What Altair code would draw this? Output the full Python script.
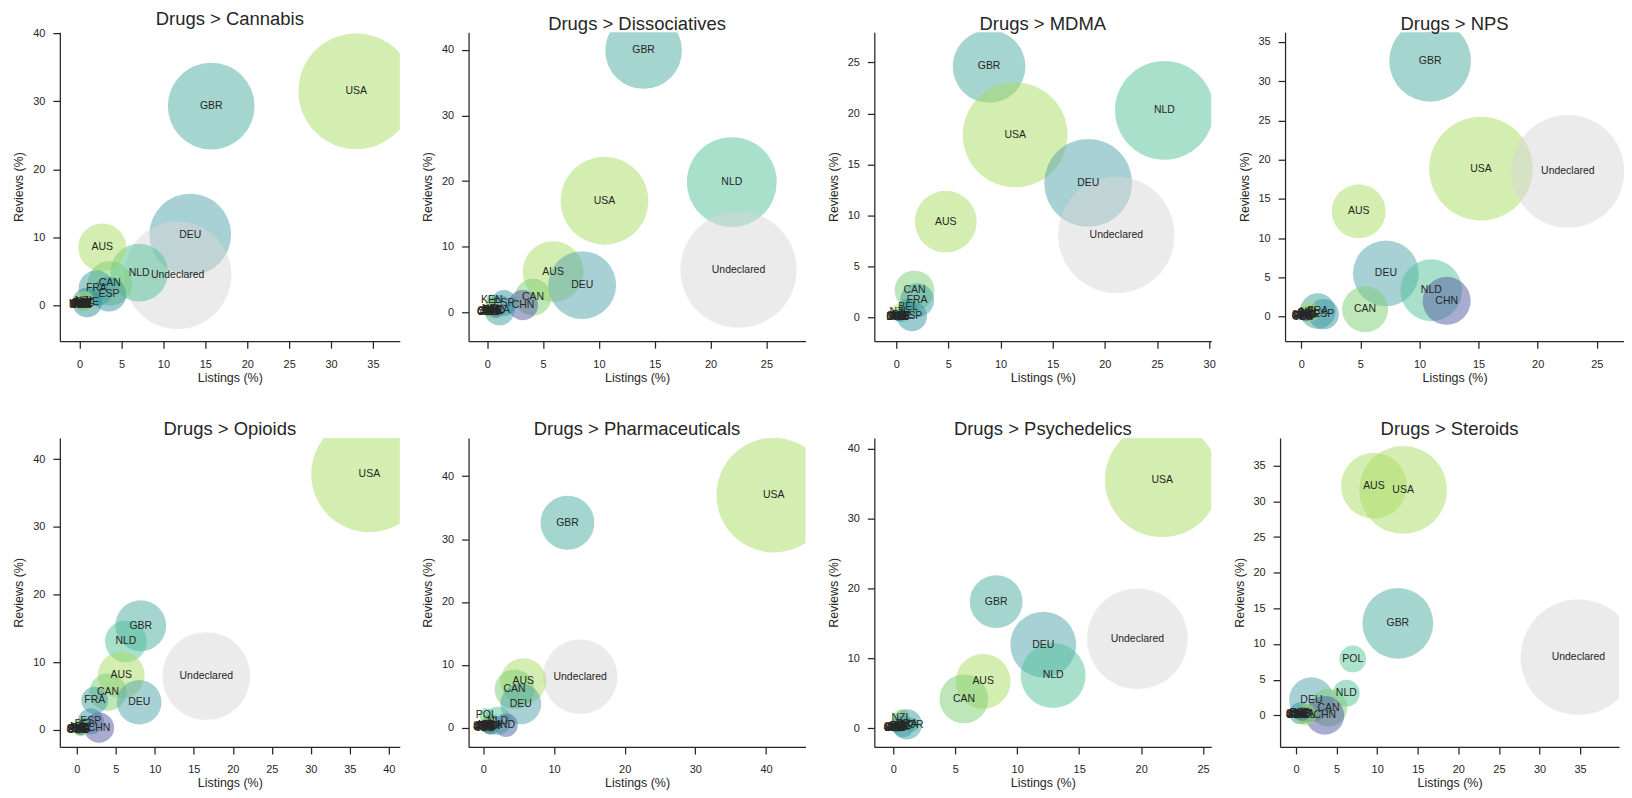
import altair as alt
import pandas as pd

FONT = "Liberation Sans"
INK = "#262626"

# ---------------- data ----------------
# each panel: countries, listings (%), reviews (%), bubble weight (share, area-proportional)
cannabis_c = ["USA", "GBR", "DEU", "Undeclared", "NLD", "AUS", "CAN", "FRA", "ESP", "SWE",
              "BEL", "ITA", "CHE", "AUT", "DNK", "NOR", "IRL", "POL", "NZL", "CZE", "FIN", "PRT"]
cannabis_x = [33.0, 15.7, 13.2, 11.7, 7.1, 2.7, 3.6, 2.0, 3.5, 0.9,
              0.5, 0.3, 0.2, 0.4, 0.1, 0.1, 0.2, 0.3, 0.6, 0.1, 0.0, 0.4]
cannabis_y = [31.5, 29.3, 10.4, 4.4, 4.8, 8.5, 3.2, 2.5, 1.6, 0.4,
              0.3, 0.1, 0.2, 0.1, 0.05, 0.1, 0.05, 0.2, 0.6, 0.0, 0.1, 0.3]
cannabis_s = [33.6, 18.9, 16.8, 29.0, 8.4, 5.8, 5.0, 3.2, 3.0, 2.2,
              0.6, 0.3, 0.3, 0.3, 0.1, 0.1, 0.2, 0.4, 1.0, 0.1, 0.1, 0.2]

dissoc_c = ["GBR", "NLD", "Undeclared", "USA", "AUS", "DEU", "CAN", "CHN", "KEN", "FRA",
            "ESP", "BEL", "ITA", "SWE", "POL", "CHE", "AUT", "NZL", "IND", "CZE", "FIN"]
dissoc_x = [14.0, 21.9, 22.5, 10.5, 5.9, 8.5, 4.1, 3.2, 0.4, 1.1,
            1.5, 0.5, 0.3, 0.2, 0.6, 0.1, 0.2, 0.4, 0.8, 0.0, 0.3]
dissoc_y = [39.9, 19.85, 6.5, 17.0, 6.2, 4.15, 2.3, 1.1, 1.9, 0.3,
            1.4, 0.3, 0.1, 0.2, 0.4, 0.05, 0.1, 0.5, 0.2, 0.0, 0.15]
dissoc_s = [14.8, 20.3, 34.0, 19.4, 9.3, 11.6, 3.4, 2.3, 0.3, 2.3,
            1.7, 0.4, 0.2, 0.3, 0.6, 0.1, 0.2, 0.8, 0.5, 0.1, 0.1]

mdma_c = ["GBR", "USA", "NLD", "DEU", "Undeclared", "AUS", "CAN", "FRA", "BEL", "NZL",
          "ESP", "ITA", "SWE", "CHE", "AUT", "POL", "DNK", "IRL", "CZE", "FIN"]
mdma_x = [8.9, 11.4, 25.7, 18.4, 21.1, 4.75, 1.75, 2.0, 1.15, 0.3,
          1.5, 0.3, 0.2, 0.1, 0.4, 0.6, 0.1, 0.2, 0.3, 0.0]
mdma_y = [24.6, 17.9, 20.3, 13.2, 8.1, 9.4, 2.67, 1.7, 1.0, 0.6,
          0.15, 0.1, 0.2, 0.05, 0.1, 0.3, 0.05, 0.1, 0.2, 0.1]
mdma_s = [13.3, 27.6, 24.5, 19.4, 34.0, 9.6, 4.0, 2.9, 0.8, 0.6,
          2.3, 0.2, 0.3, 0.1, 0.3, 0.6, 0.1, 0.2, 0.3, 0.1]

nps_c = ["GBR", "USA", "Undeclared", "AUS", "DEU", "NLD", "CHN", "CAN", "FRA", "ESP",
         "BEL", "ITA", "SWE", "POL", "CHE", "NZL", "AUT", "IND", "CZE", "FIN"]
nps_x = [10.9, 15.2, 22.55, 4.86, 7.16, 11.0, 12.3, 5.4, 1.4, 1.9,
         0.5, 0.3, 0.2, 0.6, 0.1, 0.7, 0.2, 0.4, 0.1, 0.0]
nps_y = [32.6, 18.85, 18.5, 13.4, 5.5, 3.35, 2.0, 0.93, 0.7, 0.3,
         0.3, 0.1, 0.2, 0.4, 0.05, 0.6, 0.1, 0.2, 0.0, 0.1]
nps_s = [16.8, 27.0, 32.0, 7.3, 10.9, 9.6, 5.8, 5.3, 3.2, 2.3,
         0.4, 0.2, 0.3, 0.6, 0.1, 1.0, 0.2, 0.4, 0.1, 0.1]

opioids_c = ["USA", "GBR", "NLD", "AUS", "Undeclared", "CAN", "FRA", "DEU", "ESP", "CHN",
             "BEL", "ITA", "SWE", "POL", "CHE", "NZL", "AUT", "IND", "CZE", "FIN"]
opioids_x = [37.5, 8.2, 6.3, 5.7, 16.6, 4.0, 2.3, 8.0, 1.8, 2.85,
             1.0, 0.3, 0.2, 0.6, 0.1, 0.4, 0.2, 0.5, 0.1, 0.0]
opioids_y = [37.8, 15.4, 13.1, 8.1, 7.95, 5.6, 4.4, 4.1, 1.3, 0.35,
             0.9, 0.1, 0.2, 0.3, 0.05, 0.4, 0.1, 0.2, 0.0, 0.1]
opioids_s = [34.0, 6.5, 4.4, 5.5, 19.4, 3.5, 1.8, 5.0, 1.7, 2.3,
             0.4, 0.2, 0.3, 0.6, 0.1, 0.8, 0.2, 0.4, 0.1, 0.1]

pharma_c = ["USA", "GBR", "Undeclared", "AUS", "CAN", "DEU", "POL", "NLD", "IND", "FRA",
            "ESP", "BEL", "ITA", "SWE", "CHE", "NZL", "AUT", "CHN", "CZE", "FIN"]
pharma_x = [41.1, 11.9, 13.7, 5.65, 4.4, 5.3, 0.4, 2.0, 3.2, 1.2,
            0.9, 0.5, 0.3, 0.2, 0.1, 0.6, 0.2, 0.8, 0.1, 0.0]
pharma_y = [37.0, 32.6, 8.1, 7.4, 6.1, 3.8, 2.0, 1.1, 0.4, 0.5,
            0.3, 0.3, 0.1, 0.2, 0.05, 0.5, 0.1, 0.2, 0.0, 0.1]
pharma_s = [33.0, 7.3, 14.0, 5.3, 4.0, 4.2, 0.5, 2.0, 1.4, 1.0,
            0.8, 0.4, 0.2, 0.3, 0.1, 0.8, 0.2, 0.5, 0.1, 0.1]

psych_c = ["USA", "GBR", "DEU", "NLD", "Undeclared", "AUS", "CAN", "NZL", "FRA", "NOR",
           "ESP", "BEL", "ITA", "SWE", "POL", "CHE", "AUT", "DNK", "CZE", "FIN"]
psych_x = [21.7, 8.3, 12.1, 12.9, 19.7, 7.25, 5.7, 0.65, 1.1, 1.5,
           0.8, 0.5, 0.3, 0.2, 0.6, 0.1, 0.2, 0.4, 0.1, 0.0]
psych_y = [35.5, 18.1, 11.96, 7.55, 12.8, 6.7, 4.2, 1.5, 0.57, 0.5,
           0.3, 0.3, 0.1, 0.2, 0.4, 0.05, 0.1, 0.2, 0.0, 0.1]
psych_s = [33.0, 7.0, 10.9, 10.6, 25.5, 7.6, 6.0, 0.8, 2.3, 0.5,
           1.2, 0.4, 0.2, 0.3, 0.6, 0.1, 0.2, 0.3, 0.1, 0.1]

steroids_c = ["AUS", "USA", "GBR", "Undeclared", "POL", "NLD", "DEU", "CAN", "CHN", "ESP",
              "FRA", "BEL", "ITA", "SWE", "NZL", "CHE", "AUT", "IND", "CZE", "FIN"]
steroids_x = [9.6, 13.2, 12.55, 34.8, 7.0, 6.2, 1.9, 4.0, 3.55, 0.5,
              1.0, 0.5, 0.3, 0.2, 1.2, 0.1, 0.2, 0.8, 0.1, 0.0]
steroids_y = [32.2, 31.6, 12.9, 8.15, 7.9, 3.1, 2.2, 1.07, 0.0, 0.3,
              0.2, 0.3, 0.1, 0.2, 0.1, 0.05, 0.1, 0.2, 0.0, 0.1]
steroids_s = [10.9, 19.4, 12.6, 33.6, 1.8, 1.8, 5.0, 3.6, 3.8, 1.2,
              1.0, 0.4, 0.2, 0.3, 1.2, 0.1, 0.2, 0.5, 0.1, 0.1]

titles = ["Drugs > Cannabis", "Drugs > Dissociatives", "Drugs > MDMA", "Drugs > NPS",
          "Drugs > Opioids", "Drugs > Pharmaceuticals", "Drugs > Psychedelics", "Drugs > Steroids"]

# axis ranges and tick values per panel
x_domains = [[-2.36, 38.2], [-1.67, 28.5], [-2.1, 30.2], [-1.37, 27.3],
             [-2.17, 41.4], [-2.1, 45.6], [-1.53, 25.66], [-1.96, 39.8]]
y_domains = [[-5.3, 40.2], [-4.4, 42.7], [-2.3, 27.96], [-3.14, 36.25],
             [-2.5, 43.15], [-3.06, 46.1], [-2.66, 41.5], [-4.43, 38.9]]
x_ticks = [[0, 5, 10, 15, 20, 25, 30, 35], [0, 5, 10, 15, 20, 25], [0, 5, 10, 15, 20, 25, 30],
           [0, 5, 10, 15, 20, 25], [0, 5, 10, 15, 20, 25, 30, 35, 40], [0, 10, 20, 30, 40],
           [0, 5, 10, 15, 20, 25], [0, 5, 10, 15, 20, 25, 30, 35]]
y_ticks = [[0, 10, 20, 30, 40], [0, 10, 20, 30, 40], [0, 5, 10, 15, 20, 25],
           [0, 5, 10, 15, 20, 25, 30, 35], [0, 10, 20, 30, 40], [0, 10, 20, 30, 40],
           [0, 5, 10, 15, 20, 25, 30, 35, 40], [0, 5, 10, 15, 20, 25, 30, 35]]

panels = [
    (cannabis_c, cannabis_x, cannabis_y, cannabis_s),
    (dissoc_c, dissoc_x, dissoc_y, dissoc_s),
    (mdma_c, mdma_x, mdma_y, mdma_s),
    (nps_c, nps_x, nps_y, nps_s),
    (opioids_c, opioids_x, opioids_y, opioids_s),
    (pharma_c, pharma_x, pharma_y, pharma_s),
    (psych_c, psych_x, psych_y, psych_s),
    (steroids_c, steroids_x, steroids_y, steroids_s),
]

# country colours
color_domain = ["USA", "AUS", "NZL", "CAN", "KEN", "GBR", "DEU", "NLD", "FRA", "ESP", "POL",
                "BEL", "ITA", "SWE", "CHE", "AUT", "DNK", "NOR", "IRL", "CZE", "FIN", "PRT",
                "CHN", "IND", "Undeclared"]
color_range = ["#a9db61", "#a9db61", "#a9db61", "#7bcd73", "#5fbf6a", "#4bab9f", "#51a3ab",
               "#51c199", "#3f9f9e", "#3a95a4", "#5cc79a",
               "#2f9a8c", "#35b27a", "#2e8f99", "#43b48a", "#3aa38f", "#2c8f86", "#48b08a",
               "#39a97e", "#2f8f90", "#3c9c8a", "#45ab86", "#5359a1", "#4a66a6", "#d7d7d7"]

widths = [341, 338, 338, 340]
HEIGHT = 310


def make_panel(i):
    c, xs, ys, ss = panels[i]
    df = pd.DataFrame({"Country": c, "Listings": xs, "Reviews": ys, "Weight": ss})
    xenc = alt.X("Listings:Q",
                 scale=alt.Scale(domain=x_domains[i], nice=False, zero=False),
                 axis=alt.Axis(values=x_ticks[i], title="Listings (%)", format="d"))
    yenc = alt.Y("Reviews:Q",
                 scale=alt.Scale(domain=y_domains[i], nice=False, zero=False),
                 axis=alt.Axis(values=y_ticks[i], title="Reviews (%)", format="d"))
    base = alt.Chart(df)
    bubbles = base.mark_circle(opacity=0.5, clip=True, strokeWidth=0).encode(
        x=xenc, y=yenc,
        size=alt.Size("Weight:Q", scale=alt.Scale(type="linear", domain=[0, 40], range=[0, 16000]),
                      legend=None),
        color=alt.Color("Country:N", scale=alt.Scale(domain=color_domain, range=color_range),
                        legend=None),
    )
    labels = base.mark_text(font=FONT, fontSize=10.5, color=INK, align="center",
                            baseline="middle").encode(
        x=alt.X("Listings:Q"), y=alt.Y("Reviews:Q"), text="Country:N")
    return alt.layer(bubbles, labels).properties(
        width=widths[i % 4], height=HEIGHT,
        title=alt.TitleParams(titles[i], fontSize=18.5, font=FONT, fontWeight="normal",
                              color=INK, anchor="middle", offset=-1))


row1 = alt.hconcat(*[make_panel(i) for i in range(4)], spacing=22).resolve_scale(
    x="independent", y="independent", size="independent")
row2 = alt.hconcat(*[make_panel(i) for i in range(4, 8)], spacing=22).resolve_scale(
    x="independent", y="independent", size="independent")

chart = alt.vconcat(row1, row2, spacing=36).properties(
    padding={"left": 5, "top": 0, "right": 0, "bottom": 0}
).configure_view(strokeWidth=0).configure_axis(
    grid=False, domainColor=INK, domainWidth=1.25, tickColor=INK, tickWidth=1.25,
    tickSize=7, labelPadding=8, labelFont=FONT, labelFontSize=11, labelColor=INK,
    titleFont=FONT, titleFontSize=12.5, titleFontWeight="normal", titleColor=INK
).configure_axisY(minExtent=30, maxExtent=30, titlePadding=4
).configure_axisX(minExtent=26, maxExtent=26, titlePadding=4, labelPadding=10)

chart.save("out.html", embed_options={"renderer": "svg", "actions": False})
